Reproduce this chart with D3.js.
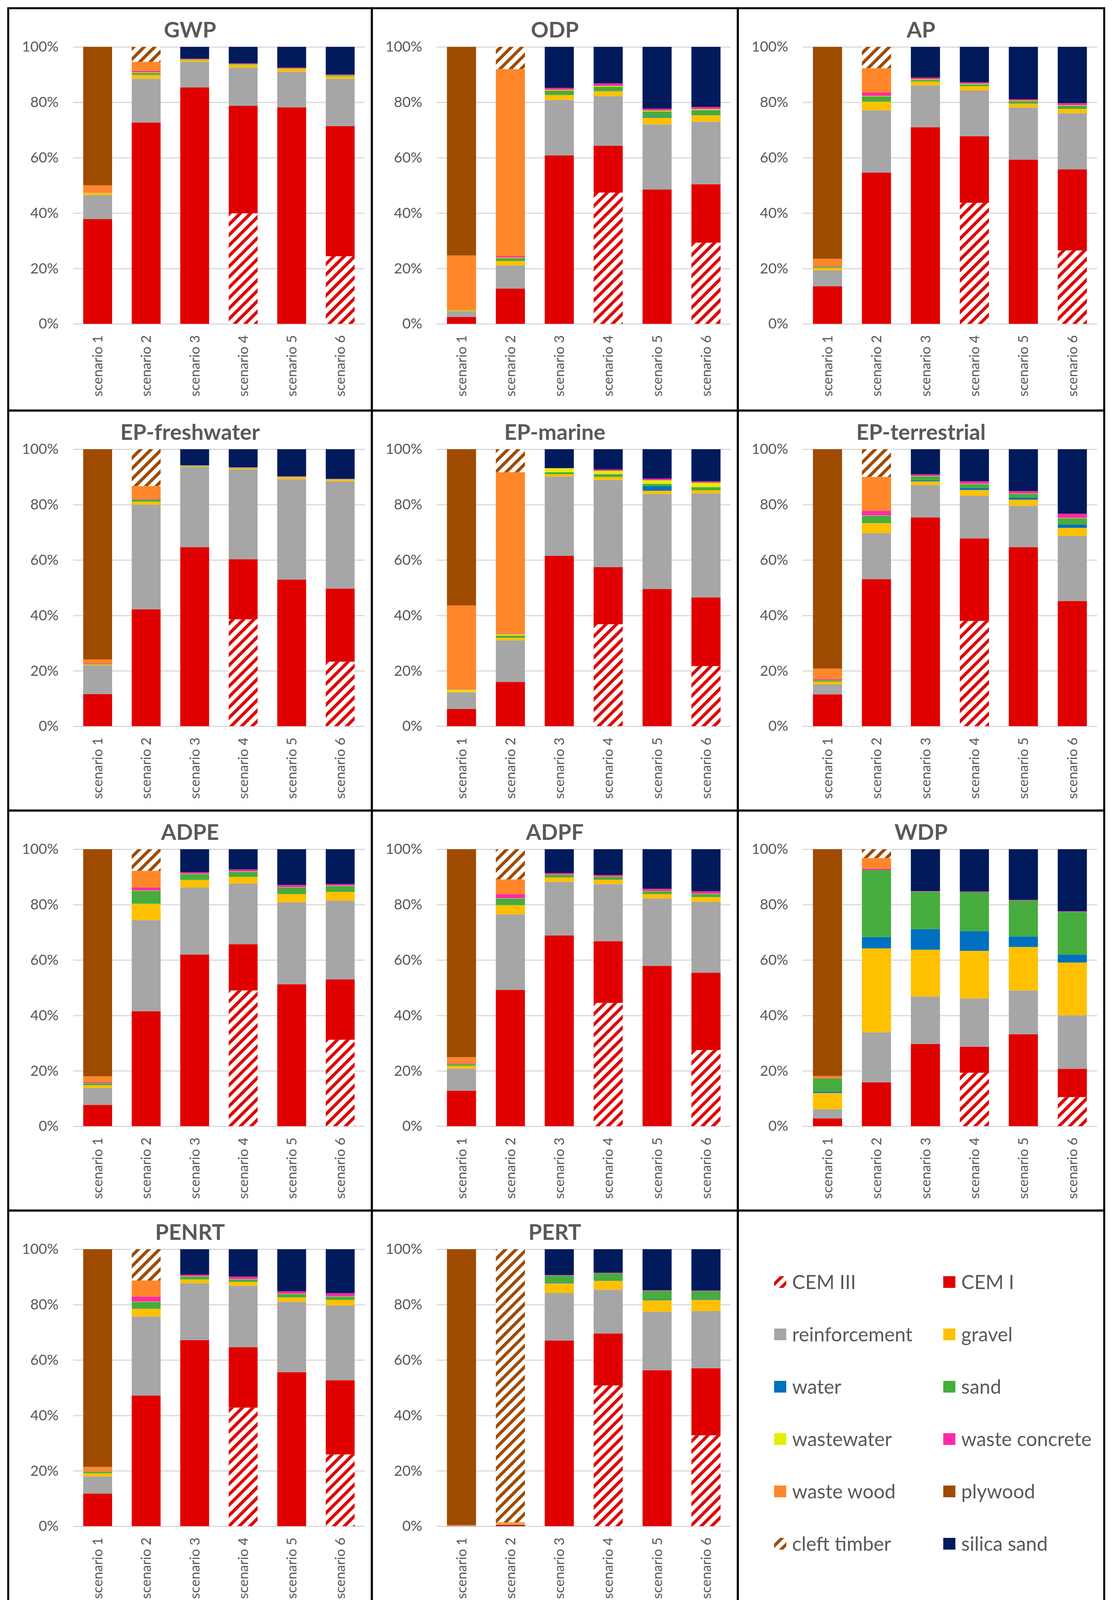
<!DOCTYPE html>
<html>
<head>
<meta charset="utf-8">
<script src="https://cdn.jsdelivr.net/npm/d3@7"></script>
<style>
    html, body { margin: 0; padding: 0; background: #fff; overflow: hidden; }
    svg { display: block; }
    svg text { font-family: Lato, "Open Sans", sans-serif; }
</style>
</head>
<body>
<svg width="2847" height="4156"></svg>
<script>
const scenarios = ["scenario 1", "scenario 2", "scenario 3", "scenario 4", "scenario 5", "scenario 6"]
const materials = ["CEM III", "CEM I", "reinforcement", "gravel", "water", "sand",
    "wastewater", "waste concrete", "waste wood", "plywood", "cleft timber", "silica sand"]
const materialColors = ["#e00000", "#e00000", "#a6a6a6", "#ffc000", "#0070c0", "#46ad3e",
    "#e4ef00", "#ff2aa6", "#ff8729", "#9e4b00", "#9e4b00", "#001a5c"]
const yTickValues = [0, 0.2, 0.4, 0.6, 0.8, 1]

// share in %, one row per scenario, columns in the order of materials
const gwp = [
    [0, 37.8, 8.6, 0.8, 0, 0.1, 0.1, 0.2, 2.4, 50.0, 0, 0],
    [0, 72.7, 15.8, 1.4, 0.1, 0.6, 0.2, 0.5, 3.3, 0, 5.4, 0],
    [0, 85.4, 9.2, 0.6, 0, 0.2, 0.1, 0.2, 0, 0, 0, 4.3],
    [39.9, 38.8, 13.8, 1.0, 0, 0.2, 0.1, 0.2, 0, 0, 0, 6.0],
    [0, 78.2, 12.8, 1.0, 0, 0.1, 0.1, 0.3, 0, 0, 0, 7.5],
    [24.4, 47.0, 17.1, 0.9, 0, 0.3, 0.1, 0.2, 0, 0, 0, 10.0]
]
const odp = [
    [0, 2.5, 2.0, 0.2, 0, 0.1, 0.1, 0, 19.8, 75.3, 0, 0],
    [0, 12.7, 8.4, 1.6, 0, 1.0, 0.2, 0.5, 67.6, 0, 8.0, 0],
    [0, 60.8, 20.0, 1.8, 0, 1.6, 0.3, 0.7, 0, 0, 0, 14.8],
    [47.4, 16.9, 17.9, 1.8, 0, 1.6, 0.3, 0.9, 0, 0, 0, 13.2],
    [0, 48.5, 23.5, 2.4, 0.3, 2.0, 0.3, 0.7, 0, 0, 0, 22.3],
    [29.3, 21.1, 22.6, 2.3, 0, 1.9, 0.3, 0.8, 0, 0, 0, 21.7]
]
const ap = [
    [0, 13.6, 5.7, 0.9, 0, 0.4, 0.1, 0.2, 2.6, 76.5, 0, 0],
    [0, 54.6, 22.5, 3.1, 0, 1.9, 0.2, 1.2, 8.8, 0, 7.7, 0],
    [0, 71.0, 15.1, 1.4, 0, 0.6, 0.2, 0.6, 0, 0, 0, 11.1],
    [43.7, 24.0, 16.5, 1.6, 0, 0.7, 0.2, 0.5, 0, 0, 0, 12.8],
    [0, 59.3, 18.8, 1.4, 0, 0.9, 0.2, 0.5, 0, 0, 0, 18.9],
    [26.5, 29.3, 20.2, 1.6, 0, 1.1, 0.2, 0.8, 0, 0, 0, 20.3]
]
const epFreshwater = [
    [0, 11.6, 10.3, 0.3, 0, 0.2, 0.1, 0.2, 1.4, 75.9, 0, 0],
    [0, 42.2, 37.8, 1.1, 0, 0.7, 0.1, 0.2, 4.6, 0, 13.3, 0],
    [0, 64.6, 29.0, 0.2, 0, 0.2, 0.1, 0.1, 0, 0, 0, 5.8],
    [38.6, 21.7, 32.4, 0.3, 0, 0.2, 0.1, 0.2, 0, 0, 0, 6.5],
    [0, 52.9, 36.3, 0.6, 0, 0.1, 0.1, 0.2, 0, 0, 0, 9.8],
    [23.3, 26.4, 38.7, 0.6, 0, 0.1, 0.1, 0.1, 0, 0, 0, 10.7]
]
const epMarine = [
    [0, 6.2, 6.0, 0.3, 0, 0.1, 0.5, 0.1, 30.4, 56.4, 0, 0],
    [0, 16.0, 15.0, 0.9, 0, 0.8, 0.5, 0.2, 58.3, 0, 8.3, 0],
    [0, 61.5, 28.6, 0.9, 0, 0.7, 1.4, 0.1, 0, 0, 0, 6.8],
    [36.8, 20.6, 31.5, 1.1, 0, 1.0, 1.2, 0.5, 0, 0, 0, 7.3],
    [0, 49.5, 34.3, 1.2, 1.6, 0.9, 1.3, 0.6, 0, 0, 0, 10.6],
    [21.7, 24.8, 37.6, 1.1, 0, 1.1, 1.6, 0.5, 0, 0, 0, 11.6]
]
const epTerrestrial = [
    [0, 11.5, 3.6, 1.0, 0, 0.4, 0.1, 0.4, 3.8, 79.2, 0, 0],
    [0, 53.1, 16.6, 3.6, 0, 2.7, 0.1, 1.7, 12.2, 0, 10.0, 0],
    [0, 75.4, 11.7, 1.3, 0.4, 1.4, 0.1, 0.6, 0, 0, 0, 9.1],
    [38.0, 29.8, 15.4, 2.1, 0.7, 1.4, 0.1, 0.9, 0, 0, 0, 11.6],
    [0, 64.6, 15.0, 2.2, 0.7, 1.4, 0.1, 0.9, 0, 0, 0, 15.1],
    [0, 45.2, 23.5, 2.9, 1.2, 2.3, 0.1, 1.5, 0, 0, 0, 23.3]
]
const adpe = [
    [0, 7.7, 6.1, 1.0, 0, 0.7, 0.1, 0.4, 2.0, 82.0, 0, 0],
    [0, 41.5, 32.9, 5.9, 0, 4.7, 0.1, 1.1, 6.0, 0, 7.8, 0],
    [0, 62.0, 24.2, 2.7, 0, 2.1, 0.1, 0.6, 0, 0, 0, 8.3],
    [49.0, 16.7, 21.9, 2.4, 0, 1.9, 0.1, 0.7, 0, 0, 0, 7.3],
    [0, 51.2, 29.6, 3.0, 0, 2.4, 0.1, 0.8, 0, 0, 0, 12.9],
    [31.2, 21.8, 28.4, 3.2, 0, 2.1, 0.1, 0.6, 0, 0, 0, 12.6]
]
const adpf = [
    [0, 12.8, 8.0, 1.0, 0, 0.6, 0.1, 0.3, 2.1, 75.1, 0, 0],
    [0, 49.2, 27.3, 3.3, 0, 2.4, 0.1, 1.5, 5.3, 0, 10.9, 0],
    [0, 68.9, 19.3, 1.6, 0, 0.9, 0.1, 0.6, 0, 0, 0, 8.6],
    [44.5, 22.3, 20.6, 1.6, 0, 1.0, 0.1, 0.6, 0, 0, 0, 9.3],
    [0, 57.9, 24.3, 1.6, 0, 1.0, 0.1, 0.8, 0, 0, 0, 14.3],
    [27.5, 27.9, 25.6, 1.7, 0, 1.1, 0.1, 0.9, 0, 0, 0, 15.2]
]
const wdp = [
    [0, 2.8, 3.3, 5.9, 0.5, 4.7, 0, 0.1, 0.8, 81.9, 0, 0],
    [0, 15.8, 18.1, 30.3, 4.1, 24.2, 0, 0.5, 3.8, 0, 3.2, 0],
    [0, 29.7, 17.1, 16.9, 7.4, 13.6, 0, 0.2, 0, 0, 0, 15.1],
    [19.3, 9.4, 17.4, 17.2, 7.1, 14.1, 0, 0.2, 0, 0, 0, 15.3],
    [0, 33.2, 15.8, 15.7, 3.8, 13.0, 0, 0.2, 0, 0, 0, 18.3],
    [10.5, 10.2, 19.3, 19.1, 2.8, 15.5, 0, 0.2, 0, 0, 0, 22.4]
]
const penrt = [
    [0, 11.8, 6.2, 1.1, 0, 0.6, 0.1, 0.1, 1.5, 78.6, 0, 0],
    [0, 47.2, 28.5, 2.8, 0, 2.5, 0.1, 1.8, 5.8, 0, 11.3, 0],
    [0, 67.2, 20.5, 1.4, 0, 1.0, 0.1, 0.6, 0, 0, 0, 9.2],
    [42.8, 21.8, 22.2, 1.4, 0, 0.9, 0.1, 0.9, 0, 0, 0, 9.9],
    [0, 55.6, 25.4, 1.6, 0, 1.2, 0.1, 0.9, 0, 0, 0, 15.2],
    [25.9, 26.8, 27.0, 2.0, 0, 1.2, 0.1, 1.1, 0, 0, 0, 15.9]
]
const pert = [
    [0, 0.1, 0.1, 0, 0, 0, 0, 0, 0.2, 99.6, 0, 0],
    [0, 0.5, 0.3, 0.2, 0, 0.1, 0, 0, 0.3, 0, 98.6, 0],
    [0, 67.0, 17.2, 3.5, 0.2, 2.6, 0, 0.2, 0, 0, 0, 9.3],
    [50.8, 18.8, 15.8, 3.2, 0.1, 2.6, 0, 0.2, 0, 0, 0, 8.5],
    [0, 56.3, 21.1, 4.2, 0.2, 3.2, 0, 0.2, 0, 0, 0, 14.8],
    [32.8, 24.2, 20.7, 4.0, 0.2, 3.0, 0, 0.2, 0, 0, 0, 14.9]
]

const indicators = ["GWP", "ODP", "AP", "EP-freshwater", "EP-marine", "EP-terrestrial",
    "ADPE", "ADPF", "WDP", "PENRT", "PERT"]
const indicatorData = [gwp, odp, ap, epFreshwater, epMarine, epTerrestrial, adpe, adpf, wdp, penrt, pert]

// cell edges of the 3 x 4 grid
const colX = [21, 952, 1889, 2827]
const rowY = [21, 1051, 2075, 3099, 4129]
const textGrey = "#595959"

function addHatch(defs, id, color){
    const p = defs.append("pattern")
        .attr("id", id)
        .attr("patternUnits", "userSpaceOnUse")
        .attr("width", 19)
        .attr("height", 19)
        .attr("patternTransform", "rotate(45)")
    p.append("rect").attr("width", 19).attr("height", 19).attr("fill", "#fff")
    p.append("rect").attr("width", 8).attr("height", 19).attr("fill", color)
}

function fillFor(i){
    if (i === 0) return "url(#hatchRed)"
    if (i === 10) return "url(#hatchBrown)"
    return materialColors[i]
}

function drawPanel(svg, idx){
    const col = idx % 3, row = Math.floor(idx / 3)
    const x0 = colX[col], x1 = colX[col + 1], y0 = rowY[row]
    const left = x0 + 166, right = x1 - 18, top = y0 + 99, bottom = y0 + 808

    const xScale = d3.scaleBand().domain(scenarios).range([left, right])
        .paddingInner(0.405).paddingOuter(0.21)
    const yScale = d3.scaleLinear().domain([0, 1]).range([bottom, top])

    const rows = indicatorData[idx].map((vals, s) => {
        const o = { scenario: scenarios[s] }
        materials.forEach((m, k) => o[m] = vals[k])
        return o
    })
    const series = d3.stack().keys(materials).offset(d3.stackOffsetExpand)(rows)

    const g = svg.append("g").attr("class", "panel")

    g.append("text")
        .attr("x", (x0 + x1) / 2)
        .attr("y", y0 + 75)
        .attr("text-anchor", "middle")
        .attr("font-size", 56)
        .attr("font-weight", "bold")
        .attr("fill", textGrey)
        .text(indicators[idx])

    const yAxis = d3.axisLeft(yScale)
        .tickValues(yTickValues)
        .tickFormat(d3.format(".0%"))
        .tickSize(-(right - left))
        .tickPadding(37)

    const yG = g.append("g")
        .attr("transform", `translate(${left}, 0)`)
        .call(yAxis)
    yG.select("path.domain").remove()
    yG.selectAll("line").attr("stroke", "#d9d9d9").attr("stroke-width", 3)
    yG.selectAll("text")
        .attr("font-size", 37)
        .attr("font-family", "Lato, 'Open Sans', sans-serif")
        .attr("fill", textGrey)

    g.append("g")
        .selectAll("g")
        .data(series)
        .enter()
        .append("g")
        .attr("fill", (d, i) => fillFor(i))
        .selectAll("rect")
        .data(d => d)
        .enter()
        .append("rect")
        .attr("x", d => xScale(d.data.scenario))
        .attr("y", d => yScale(d[1]))
        .attr("width", xScale.bandwidth())
        .attr("height", d => yScale(d[0]) - yScale(d[1]))

    const xAxis = d3.axisBottom(xScale).tickSize(0)
    const xG = g.append("g")
        .attr("transform", `translate(0, ${bottom})`)
        .call(xAxis)
    xG.select("path.domain").remove()
    xG.selectAll("text")
        .attr("transform", "rotate(-90)")
        .attr("text-anchor", "end")
        .attr("x", -29)
        .attr("y", 0)
        .attr("dy", "0.35em")
        .attr("font-size", 35)
        .attr("font-family", "Lato, 'Open Sans', sans-serif")
        .attr("fill", textGrey)
}

function drawLegend(svg){
    const x0 = colX[2], y0 = rowY[3]
    const items = svg.append("g")
        .attr("id", "legend")
        .selectAll("g")
        .data(materials)
        .enter()
        .append("g")
        .attr("transform", (d, i) => `translate(${x0 + 93 + (i % 2) * 433}, ${y0 + 183 + Math.floor(i / 2) * 134})`)

    items.append("rect")
        .attr("x", 0)
        .attr("y", -15)
        .attr("width", 31)
        .attr("height", 30)
        .attr("fill", (d, i) => fillFor(i))

    items.append("text")
        .attr("x", 46)
        .attr("dy", "0.35em")
        .attr("font-size", 50)
        .attr("fill", textGrey)
        .text(d => d)
}

function draw(){
    const svg = d3.select("svg")
    svg.append("rect").attr("width", 2847).attr("height", 4156).attr("fill", "#fff")

    const defs = svg.append("defs")
    addHatch(defs, "hatchRed", materialColors[0])
    addHatch(defs, "hatchBrown", materialColors[10])

    indicators.forEach((name, i) => drawPanel(svg, i))
    drawLegend(svg)

    // black frame round every cell
    const cells = d3.range(12).map(i => ({ col: i % 3, row: Math.floor(i / 3) }))
    svg.append("g")
        .selectAll("rect")
        .data(cells)
        .enter()
        .append("rect")
        .attr("x", d => colX[d.col])
        .attr("y", d => rowY[d.row])
        .attr("width", d => colX[d.col + 1] - colX[d.col])
        .attr("height", d => rowY[d.row + 1] - rowY[d.row])
        .attr("fill", "none")
        .attr("stroke", "#000")
        .attr("stroke-width", 5)
}

draw()
</script>
</body>
</html>
